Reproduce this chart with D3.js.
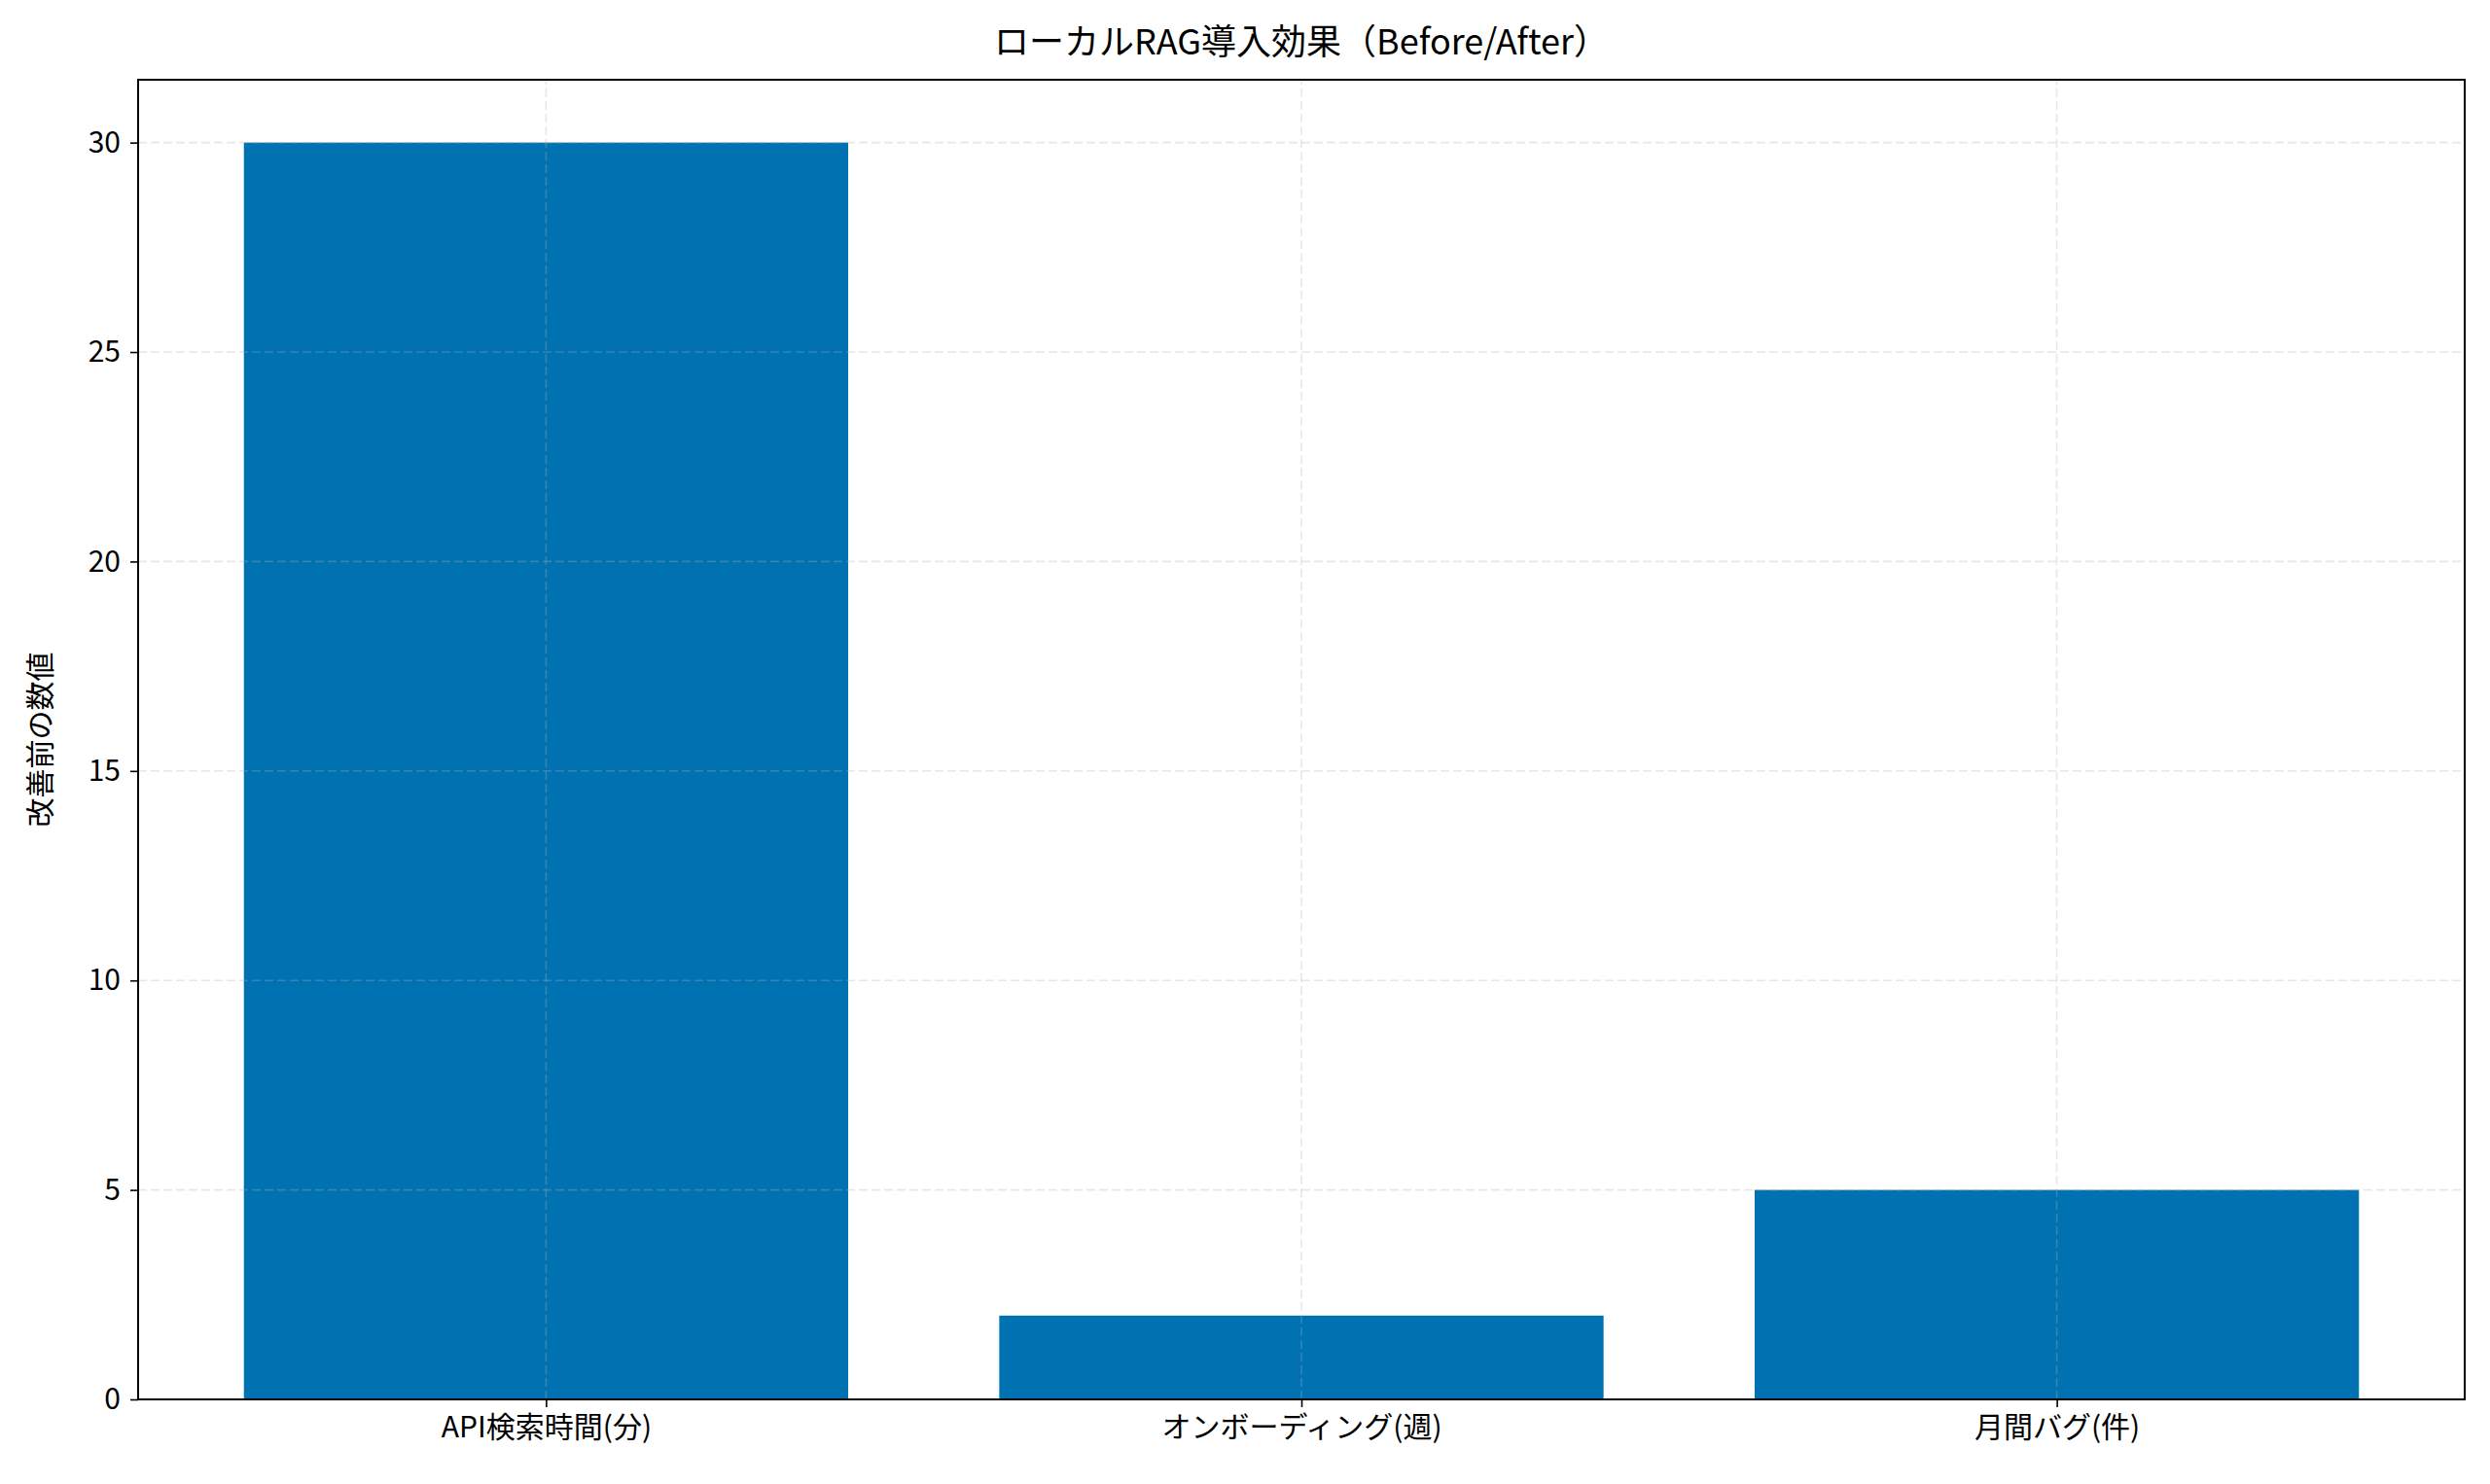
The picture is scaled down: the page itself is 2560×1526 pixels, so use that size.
<!DOCTYPE html>
<html>
<head>
<meta charset="utf-8">
<script src="https://cdn.jsdelivr.net/npm/d3@7"></script>
<style>
  body { margin: 0; background: #fff; }
  svg text { font-family: "Noto Sans CJK JP", "Noto Sans", sans-serif; fill: #000; }
</style>
</head>
<body>
<svg id="chart" width="2560" height="1526"></svg>
<script>
// Chart data
var categories = ['API検索時間(分)', 'オンボーディング(週)', '月間バグ(件)'];
var beforeValues = [30, 2, 5];
var yTicks = [0, 5, 10, 15, 20, 25, 30];

var margin = { left: 142, right: 26, top: 82, bottom: 87 };
var width = 2560, height = 1526;
var svg = d3.select('#chart');

// Scales (matplotlib-like limits)
var x = d3.scaleLinear().domain([-0.54, 2.54]).range([margin.left, width - margin.right]);
var y = d3.scaleLinear().domain([0, 31.5]).range([height - margin.bottom, margin.top]);

// Grid
var grid = svg.append('g');
grid.selectAll('.gy').data(yTicks).enter().append('line')
  .attr('x1', x.range()[0]).attr('x2', x.range()[1])
  .attr('y1', function(d) { return y(d); }).attr('y2', function(d) { return y(d); })
  .attr('stroke', '#b0b0b0').attr('stroke-opacity', 0.3)
  .attr('stroke-width', 1.6).attr('stroke-dasharray', '9,4');
grid.selectAll('.gx').data(categories).enter().append('line')
  .attr('x1', function(d, i) { return x(i); }).attr('x2', function(d, i) { return x(i); })
  .attr('y1', y.range()[0]).attr('y2', y.range()[1])
  .attr('stroke', '#b0b0b0').attr('stroke-opacity', 0.3)
  .attr('stroke-width', 1.6).attr('stroke-dasharray', '9,4');

// Bars
svg.selectAll('.bar').data(beforeValues).enter().append('rect')
  .attr('x', function(d, i) { return x(i - 0.4); })
  .attr('width', function(d, i) { return x(i + 0.4) - x(i - 0.4); })
  .attr('y', function(d) { return y(d); })
  .attr('height', function(d) { return y(0) - y(d); })
  .attr('fill', '#0072b2');

// Grid over bars (matplotlib draws it above here)
svg.node().appendChild(grid.node());

// Axes
var xAxis = d3.axisBottom(x).tickValues([0, 1, 2])
  .tickFormat(function(d) { return categories[d]; }).tickSize(8).tickPadding(10);
var gx = svg.append('g').attr('transform', 'translate(0,' + y(0) + ')').call(xAxis);
var yAxis = d3.axisLeft(y).tickValues(yTicks).tickSize(8).tickPadding(10);
var gy = svg.append('g').attr('transform', 'translate(' + x.range()[0] + ',0)').call(yAxis);
[gx, gy].forEach(function(g) {
  g.select('.domain').remove();
  g.selectAll('line').attr('stroke', '#000').attr('stroke-width', 1.6);
  g.selectAll('text').style('font-size', '30px').attr('fill', '#000');
});

// Frame
svg.append('rect')
  .attr('x', x.range()[0]).attr('y', y.range()[1])
  .attr('width', x.range()[1] - x.range()[0]).attr('height', y.range()[0] - y.range()[1])
  .attr('fill', 'none').attr('stroke', '#000').attr('stroke-width', 2);

// Title and label
svg.append('text').attr('x', (x.range()[0] + x.range()[1]) / 2).attr('y', 56)
  .attr('text-anchor', 'middle').style('font-size', '36px')
  .text('ローカルRAG導入効果（Before/After）');
svg.append('text')
  .attr('transform', 'translate(52,' + ((y.range()[0] + y.range()[1]) / 2) + ') rotate(-90)')
  .attr('text-anchor', 'middle').style('font-size', '30px')
  .text('改善前の数値');
</script>
</body>
</html>
